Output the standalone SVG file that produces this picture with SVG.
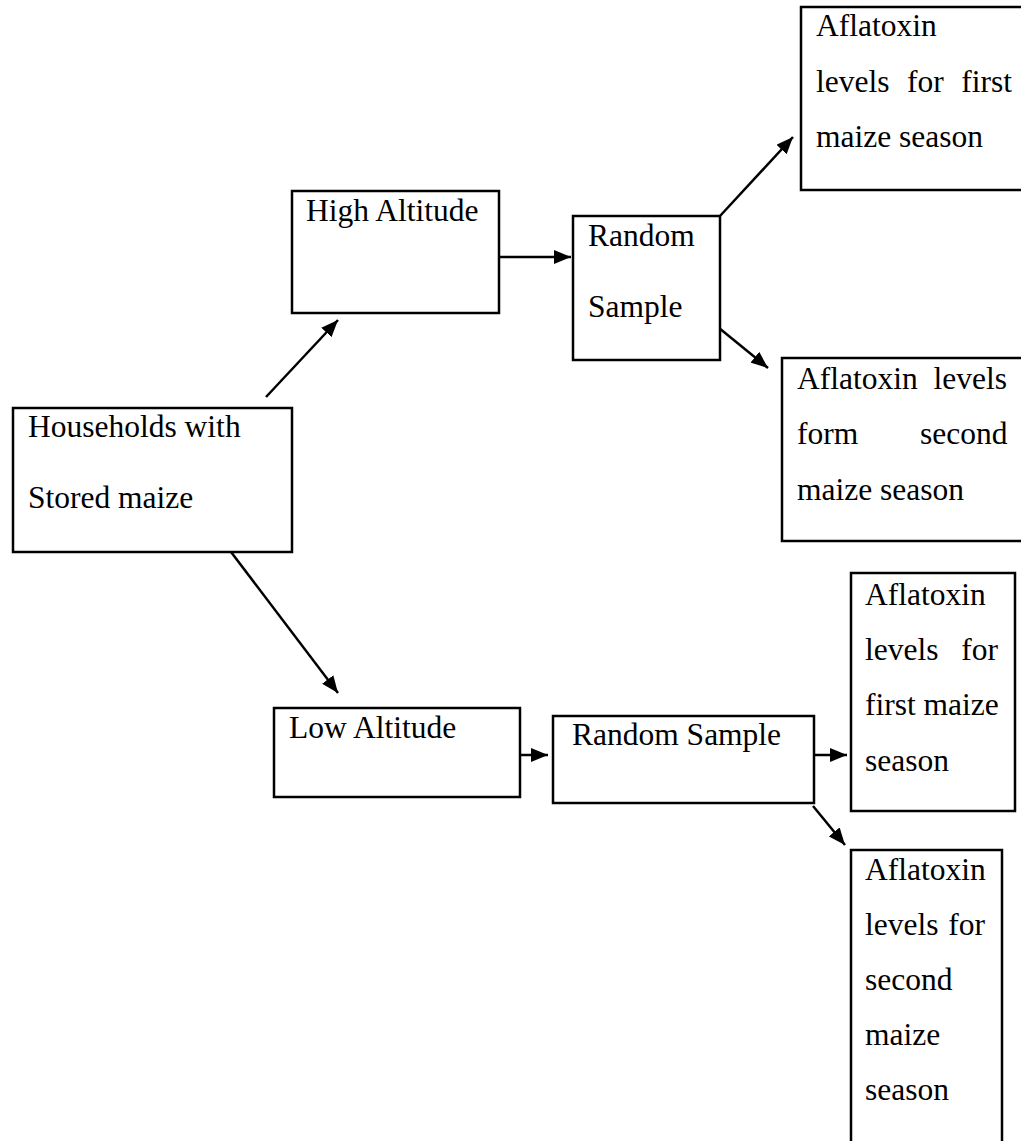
<svg xmlns="http://www.w3.org/2000/svg" width="1021" height="1141" viewBox="0 0 1021 1141">
<style>
.box{fill:#fff;stroke:#000;stroke-width:2.5}
.t{font-family:"Liberation Serif","Times New Roman",serif;font-size:31.5px;fill:#000}
.c{stroke:#000;stroke-width:2.5;fill:none;marker-end:url(#ah)}
</style>
<defs>
<marker id="ah" markerUnits="userSpaceOnUse" markerWidth="18" markerHeight="14" refX="17" refY="7" orient="auto">
<path d="M0,0 L17,7 L0,14 Z" fill="#000"/>
</marker>
</defs>
<rect width="1021" height="1141" fill="#fff"/>
<g id="connectors">
<line class="c" x1="266" y1="397" x2="338" y2="320"/>
<line class="c" x1="499" y1="257" x2="571" y2="257"/>
<line class="c" x1="720" y1="216" x2="793" y2="137"/>
<line class="c" x1="719" y1="328" x2="768" y2="368"/>
<line class="c" x1="228" y1="548" x2="338" y2="693"/>
<line class="c" x1="520" y1="755" x2="548" y2="755"/>
<line class="c" x1="814" y1="755" x2="847" y2="755"/>
<line class="c" x1="813" y1="806" x2="845" y2="845"/>
</g>
<g id="households">
<rect class="box" x="13" y="408" width="279" height="144"/>
<text class="t" x="28" y="437">Households with</text>
<text class="t" x="28" y="508">Stored maize</text>
</g>
<g id="high-altitude">
<rect class="box" x="292" y="191" width="207" height="122"/>
<text class="t" x="306" y="221">High Altitude</text>
</g>
<g id="random-sample-high">
<rect class="box" x="573" y="216" width="147" height="144"/>
<text class="t" x="588" y="246">Random</text>
<text class="t" x="588" y="317">Sample</text>
</g>
<g id="aflatoxin-high-first">
<rect class="box" x="801" y="7" width="230" height="183"/>
<text class="t" x="816" y="36">Aflatoxin</text>
<text class="t" x="816" y="92" word-spacing="9.7">levels for first</text>
<text class="t" x="816" y="147">maize season</text>
</g>
<g id="aflatoxin-high-second">
<rect class="box" x="782" y="358" width="250" height="183"/>
<text class="t" x="797" y="389" word-spacing="8">Aflatoxin levels</text>
<text class="t" x="797" y="444" word-spacing="54">form second</text>
<text class="t" x="797" y="500">maize season</text>
</g>
<g id="low-altitude">
<rect class="box" x="274" y="708" width="246" height="89"/>
<text class="t" x="289" y="738">Low Altitude</text>
</g>
<g id="random-sample-low">
<rect class="box" x="553" y="716" width="261" height="87"/>
<text class="t" x="572" y="745">Random Sample</text>
</g>
<g id="aflatoxin-low-first">
<rect class="box" x="851" y="573" width="164" height="238"/>
<text class="t" x="865" y="605">Aflatoxin</text>
<text class="t" x="865" y="660" word-spacing="15">levels for</text>
<text class="t" x="865" y="715">first maize</text>
<text class="t" x="865" y="771">season</text>
</g>
<g id="aflatoxin-low-second">
<rect class="box" x="851" y="850" width="151" height="300"/>
<text class="t" x="865" y="880">Aflatoxin</text>
<text class="t" x="865" y="935" word-spacing="2">levels for</text>
<text class="t" x="865" y="990">second</text>
<text class="t" x="865" y="1045">maize</text>
<text class="t" x="865" y="1100">season</text>
</g>
</svg>
